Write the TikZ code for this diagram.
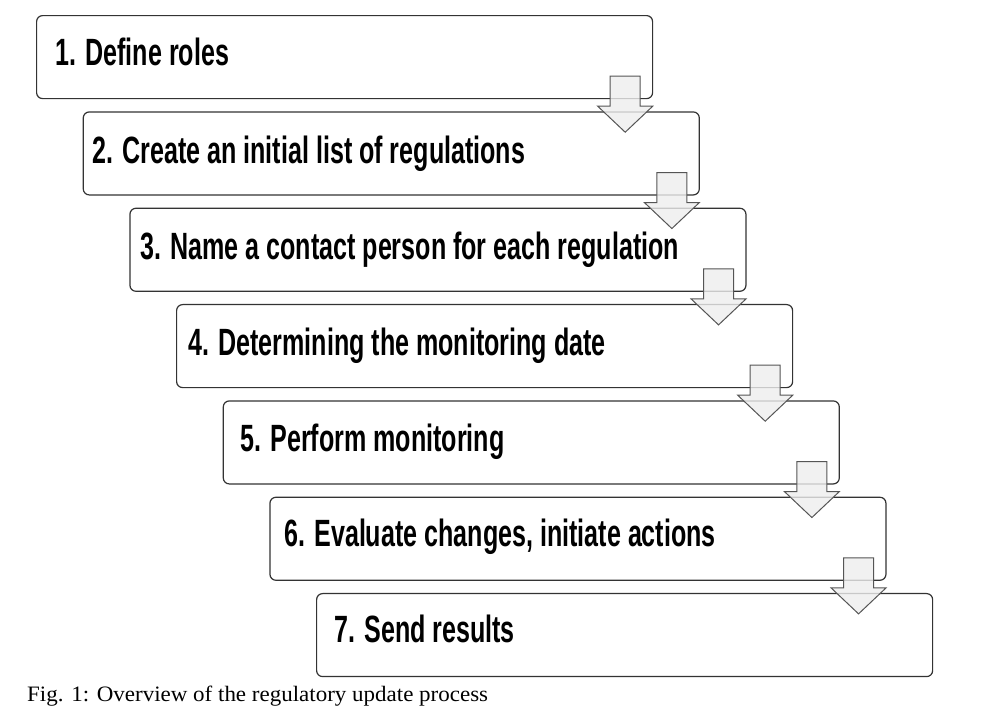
\documentclass[tikz,border=0pt]{standalone}
\usepackage{fontspec}
\usetikzlibrary{calc}
\newfontfamily\boxfont[FakeStretch=0.66]{Liberation Sans}
\newfontfamily\capfont[FakeStretch=1.045]{Liberation Serif}
\definecolor{boxline}{HTML}{333333}
\definecolor{arrline}{HTML}{555555}
\definecolor{arrfill}{HTML}{EEEEEE}
\begin{document}
\begin{tikzpicture}[x=1pt,y=-1pt,
  stepbox/.style={draw=boxline,line width=1.2pt,rounded corners=6pt,fill=white,
    minimum width=616pt,minimum height=83pt,anchor=north west,inner sep=0pt},
  steptext/.style={anchor=base west,inner sep=0pt,font=\boxfont\bfseries\fontsize{38}{42}\selectfont},
  blockarrow/.style={draw=arrline,line width=1pt,fill=arrfill,fill opacity=0.8,line join=miter}]
\useasboundingbox (0,0) rectangle (995,716);
\foreach \i in {1,...,7}{
  \node[stepbox] (b\i) at ({36+46.67*(\i-1)},{15+96.33*(\i-1)}) {};
}
\node[steptext] (t1) at (55,65) {1. Define roles};
\node[steptext] (t2) at (92,163) {2. Create an initial list of regulations};
\node[steptext] (t3) at (140,259) {3. Name a contact person for each regulation};
\node[steptext] (t4) at (188,355) {4. Determining the monitoring date};
\node[steptext] (t5) at (240,451) {5. Perform monitoring};
\node[steptext] (t6) at (284,546) {6. Evaluate changes, initiate actions};
\node[steptext] (t7) at (334,642) {7. Send results};
\foreach \i in {1,...,6}{
  \coordinate (a\i) at ($(b\i.south east)+(-28,0)$);
  \draw[blockarrow] (a\i) ++(-15,-23) -- ++(30,0) -- ++(0,30) -- ++(12.5,0)
     -- ++(-27.5,26) -- ++(-27.5,-26) -- ++(12.5,0) -- cycle;
}
\node[anchor=base west,inner sep=0pt,font=\capfont\fontsize{22}{26}\selectfont] (cap) at (27,701)
  {Fig. 1: Overview of the regulatory update process};
\end{tikzpicture}
\end{document}
